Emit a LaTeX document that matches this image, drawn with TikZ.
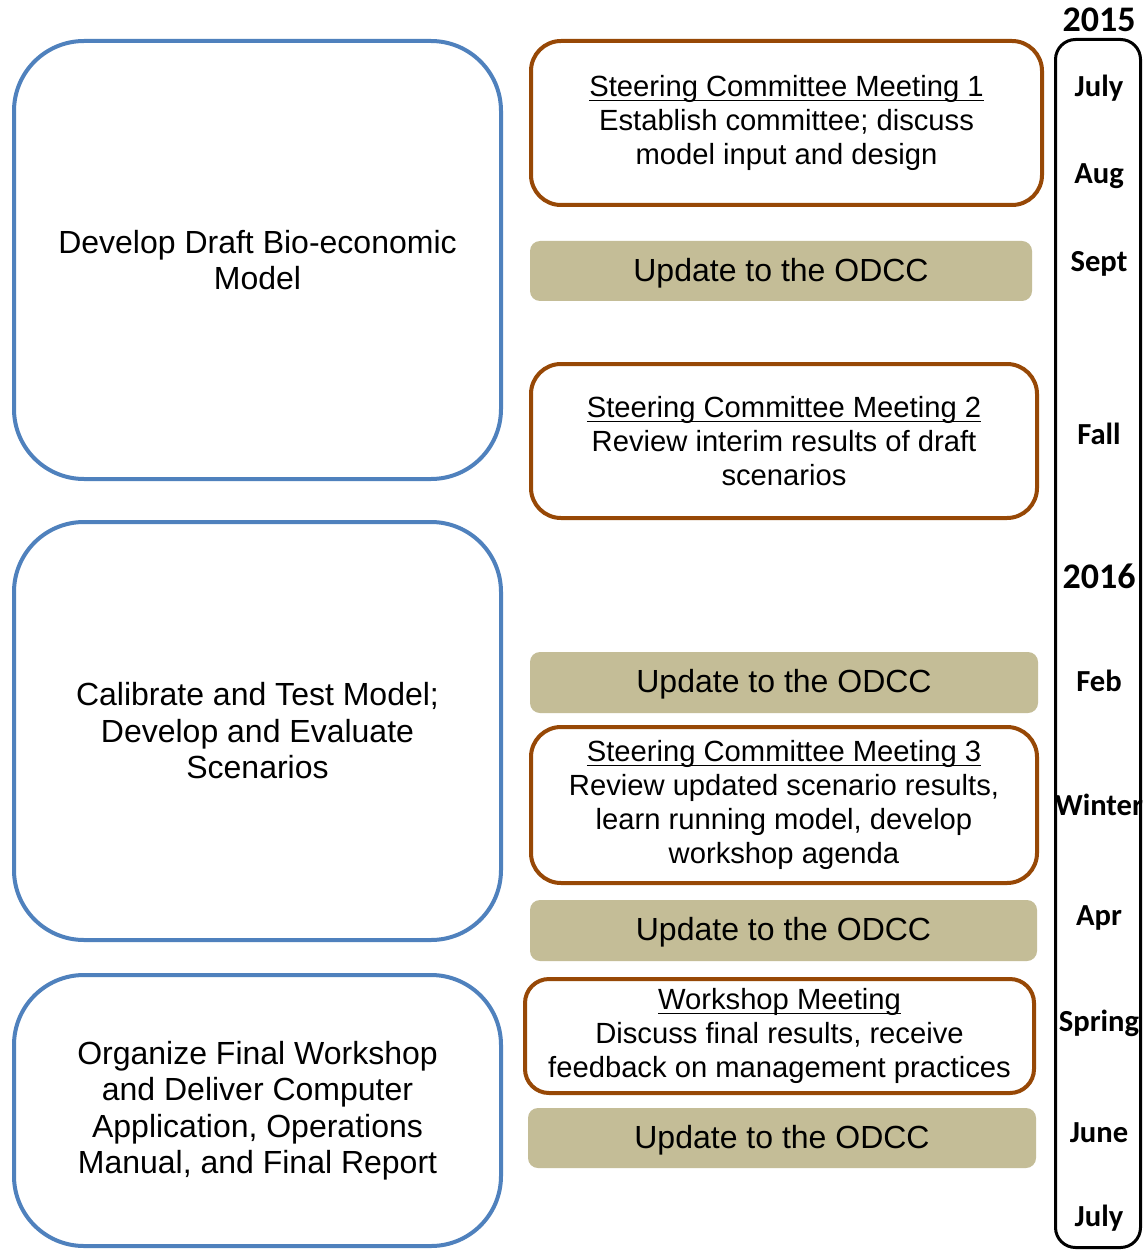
\documentclass[tikz,border=0pt]{standalone}
\usepackage{amsmath}
\usepackage{fontspec}
\setmainfont{Liberation Sans}
\newfontfamily\calfont{Carlito}
\usetikzlibrary{calc}
\definecolor{phaseblue}{RGB}{79,129,189}
\definecolor{meetbrown}{RGB}{151,72,6}
\definecolor{odcctan}{RGB}{196,189,151}
\newcommand{\uttl}[1]{\underline{\smash[b]{#1}}}

\begin{document}
\begin{tikzpicture}[x=0.5pt,y=-0.5pt]
        \tikzset{%
            phase/.style={draw=phaseblue, line width=2pt, rounded corners=35pt,%
                inner sep=0pt, align=center, font=\fontsize{16}{18.25}\selectfont},%
            meeting/.style={draw=meetbrown, line width=2pt, rounded corners=15pt,%
                inner sep=0pt, align=center, font=\fontsize{14.6}{17}\selectfont},%
            update/.style={fill=odcctan, rounded corners=5pt, text depth=1.5pt,%
                inner sep=0pt, font=\fontsize{16}{19}\selectfont},%
            month/.style={font=\calfont\bfseries\fontsize{15.3}{18}\selectfont},%
            year/.style={font=\calfont\bfseries\fontsize{18}{21}\selectfont},%
        }%
        \useasboundingbox[fill=white] (0,0) rectangle (1145,1251);%

        %
        % Phases
        %
        \node[phase, minimum width=243.5pt, minimum height=219pt] (phase 1) at (257.5,260)%
            {Develop Draft Bio-economic\\Model};%
        \node[phase, minimum width=243.5pt, minimum height=209pt] (phase 2) at (257.5,731)%
            {Calibrate and Test Model;\\Develop and Evaluate\\Scenarios};%
        \node[phase, minimum width=243.5pt, minimum height=135.5pt] (phase 3) at (257.5,1110.5)%
            {Organize Final Workshop\\and Deliver Computer\\Application, Operations\\Manual, and Final Report};%

        %
        % Meetings
        %
        \node[meeting, minimum width=255.5pt, minimum height=82pt] (meeting 1) at (786.5,123)%
            {\uttl{Steering Committee Meeting 1}\\Establish committee; discuss\\model input and design};%
        \node[meeting, minimum width=253pt, minimum height=77pt] (meeting 2) at (784,441)%
            {\uttl{Steering Committee Meeting 2}\\Review interim results of draft\\scenarios};%
        \node[meeting, minimum width=253pt, minimum height=78pt] (meeting 3) at (784,805)%
            {\uttl{Steering Committee Meeting 3}\\Review updated scenario results,\\learn running model, develop\\workshop agenda};%
        \node[meeting, rounded corners=12pt, minimum width=254.5pt, minimum height=57pt] (workshop) at (779.5,1036)%
            {\uttl{Workshop Meeting}\\Discuss final results, receive\\feedback on management practices};%

        % Updates
        \foreach \n/\x/\y/\w/\h in {1/781/271/251/30,2/784/682.5/254/30.5,3/783.5/930.5/253.5/30.5,4/782/1138/254/30} {%
            \node[update, minimum width=\w pt, minimum height=\h pt] (update \n) at (\x,\y) {Update to the ODCC};%
        }%

        %
        % Timeline
        %
        \node[draw, line width=1.5pt, rounded corners=10pt, minimum width=42.5pt, minimum height=604pt,%
            inner sep=0pt] (timeline) at (1098,643.5) {};%
        \node[year] (year 2015) at (1099,20) {2015};%
        \node[year] (year 2016) at (1099,576) {2016};%
        \foreach \m/\y [count=\i] in {July/88,Aug/176,Sept/264,Fall/434,Feb/681,Winter/805,Apr/918,Spring/1023,June/1133,July/1218} {%
            \node[month] (month \i) at (1099,\y) {\m};%
        }%
    \end{tikzpicture}
\end{document}
